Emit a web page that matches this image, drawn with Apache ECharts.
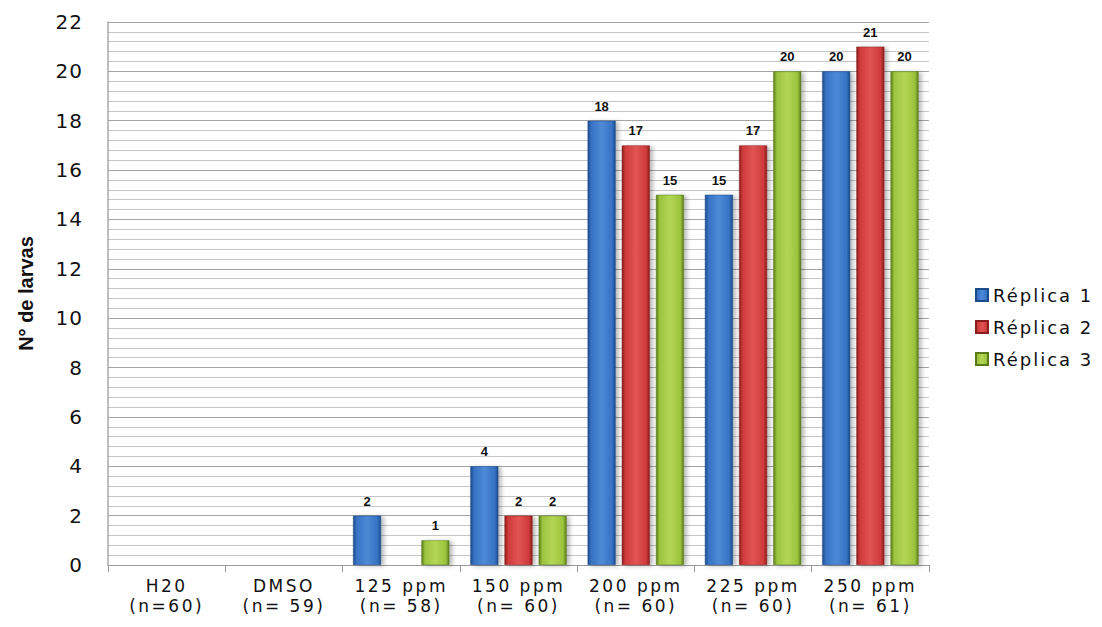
<!DOCTYPE html>
<html>
<head>
<meta charset="utf-8">
<script src="https://cdn.jsdelivr.net/npm/echarts@6/dist/echarts.min.js"></script>
<style>html,body{margin:0;padding:0;background:#fff;}#c{width:1102px;height:627px;}</style>
</head>
<body>
<div id="c"></div>
<script>
var categories = ['H20\n(n=60)', 'DMSO\n(n= 59)', '125 ppm\n(n= 58)', '150 ppm\n(n= 60)', '200 ppm\n(n= 60)', '225 ppm\n(n= 60)', '250 ppm\n(n= 61)'];
var seriesNames = ['Réplica 1', 'Réplica 2', 'Réplica 3'];
var replica1 = [0, 0, 2, 4, 18, 15, 20];
var replica2 = [0, 0, 0, 2, 17, 17, 21];
var replica3 = [0, 0, 1, 2, 15, 20, 20];
var yTicks = [0, 2, 4, 6, 8, 10, 12, 14, 16, 18, 20, 22];

var palettes = [
  {edge: '#1d4a8a', mid: '#4d8ad6', base: '#3672c4'},
  {edge: '#8a1c1c', mid: '#e25454', base: '#cf3a3a'},
  {edge: '#5a7a1a', mid: '#b4d656', base: '#9bc33c'}
];
function grad(p) {
  return new echarts.graphic.LinearGradient(0, 0, 1, 0, [
    {offset: 0, color: p.edge},
    {offset: 0.12, color: p.base},
    {offset: 0.5, color: p.mid},
    {offset: 0.88, color: p.base},
    {offset: 1, color: p.edge}
  ]);
}
var dataSets = [replica1, replica2, replica3];
var series = dataSets.map(function (d, i) {
  return {
    name: seriesNames[i],
    type: 'bar',
    data: d.map(function (v) {
      return v === 0 ? {value: v, itemStyle: {opacity: 0}} : v;
    }),
    barWidth: 28,
    barGap: '22%',
    itemStyle: {
      color: grad(palettes[i]),
      borderColor: palettes[i].edge,
      borderWidth: 0.5,
      shadowColor: 'rgba(0,0,0,0.28)',
      shadowBlur: 4,
      shadowOffsetX: 3,
      shadowOffsetY: 1
    },
    label: {
      show: true,
      position: 'top',
      distance: 8,
      fontFamily: 'Liberation Sans, Arial, sans-serif',
      fontWeight: 'bold',
      fontSize: 13,
      color: '#111',
      formatter: function (p) { return p.value === 0 ? '' : String(p.value); }
    }
  };
});

var chart = echarts.init(document.getElementById('c'), null, {renderer: 'svg'});
chart.setOption({
  animation: false,
  backgroundColor: '#ffffff',
  color: palettes.map(function (p) { return p.base; }),
  grid: {left: 108, right: 173, top: 22, bottom: 62, containLabel: false},
  legend: {
    orient: 'vertical',
    left: 970,
    top: 281,
    itemWidth: 12,
    itemHeight: 12,
    itemGap: 14,
    icon: 'rect',
    data: seriesNames,
    textStyle: {fontFamily: 'DejaVu Sans, sans-serif', fontSize: 18, color: '#111', padding: [0, 0, 0, 0]}
  },
  xAxis: {
    type: 'category',
    data: categories,
    axisLine: {show: true, lineStyle: {color: '#9a9a9a', width: 1}},
    axisTick: {show: true, alignWithLabel: false, length: 7, lineStyle: {color: '#9a9a9a'}},
    axisLabel: {
      margin: 11,
      fontFamily: 'DejaVu Sans, sans-serif',
      fontSize: 17,
      lineHeight: 20,
      color: '#111',
      interval: 0
    }
  },
  yAxis: {
    type: 'value',
    min: 0,
    max: 22,
    interval: 2,
    name: 'N° de larvas',
    nameLocation: 'middle',
    nameGap: 72,
    nameRotate: 90,
    nameTextStyle: {fontFamily: 'Liberation Sans, Arial, sans-serif', fontWeight: 'bold', fontSize: 20, color: '#111'},
    axisLine: {show: true, lineStyle: {color: '#a8a8a8', width: 1.5}},
    axisTick: {show: false},
    axisLabel: {
      margin: 25,
      fontFamily: 'DejaVu Sans, sans-serif',
      fontSize: 20,
      color: '#111',
      formatter: function (v) { return yTicks.indexOf(v) >= 0 ? String(v) : ''; }
    },
    splitLine: {show: true, lineStyle: {color: '#a4a4a4', width: 1}},
    minorTick: {show: false, splitNumber: 5},
    minorSplitLine: {show: true, lineStyle: {color: '#c6c6c6', width: 1}}
  },
  series: series
});

function spaceText() {
  var texts = document.querySelectorAll('#c svg text');
  texts.forEach(function (t) {
    var s = t.textContent || '';
    if (/ppm|\(n=|H20|DMSO/.test(s)) {
      t.setAttribute('letter-spacing', '2.5px');
    } else if (/Réplica/.test(s)) {
      t.setAttribute('letter-spacing', '2px');
    } else if (/^\d+$/.test(s) && /20px/.test(t.getAttribute('style') || '')) {
      t.setAttribute('letter-spacing', '1px');
    }
  });
}
spaceText();
chart.on('finished', spaceText);
setTimeout(spaceText, 50);
</script>
</body>
</html>
